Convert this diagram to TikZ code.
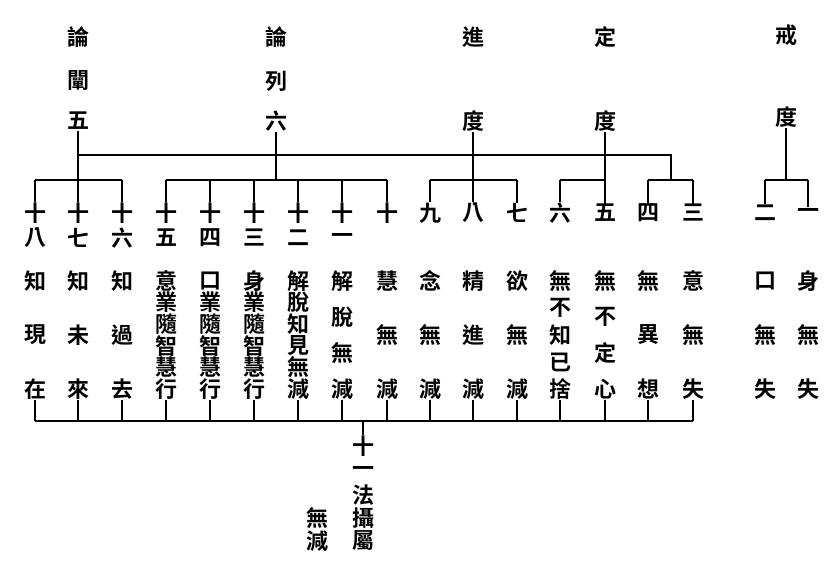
\documentclass[tikz,border=0pt]{standalone}
\usepackage{fontspec}
\newfontfamily\cjk{Noto Sans CJK TC Bold}

\begin{document}
\begin{tikzpicture}[x=1pt,y=-1pt,line width=1.4pt,
	zi/.style={font=\cjk\fontsize{22}{22}\selectfont,inner sep=0pt}]
	\useasboundingbox (0,0) rectangle (839,568);

	% headers
	\node[zi] (a1) at (78,37) {論};
	\node[zi] (a2) at (78,81) {闡};
	\node[zi] (hA) at (78,121) {五};
	\node[zi] (b1) at (276,37) {論};
	\node[zi] (b2) at (276,81) {列};
	\node[zi] (hB) at (276,121) {六};
	\node[zi] (c1) at (473,37) {進};
	\node[zi] (hC) at (473,121) {度};
	\node[zi] (d1) at (605,37) {定};
	\node[zi] (hD) at (605,121) {度};
	\node[zi] (e1) at (786,35) {戒};
	\node[zi] (hE) at (786,117) {度};

	% items
	\foreach \i/\x/\nr/\txt/\gap in {
		1/808/{一}/{身,無,失}/54,
		2/765/{二}/{口,無,失}/54,
		3/693/{三}/{意,無,失}/54,
		4/648/{四}/{無,異,想}/54,
		5/605/{五}/{無,不,定,心}/36,
		6/560/{六}/{無,不,知,已,捨}/27,
		7/517/{七}/{欲,無,減}/54,
		8/473/{八}/{精,進,減}/54,
		9/430/{九}/{念,無,減}/54,
		10/387/{十}/{慧,無,減}/54,
		11/342/{十,一}/{解,脫,無,減}/36,
		12/298/{十,二}/{解,脫,知,見,無,減}/21.6,
		13/254/{十,三}/{身,業,隨,智,慧,行}/21.6,
		14/210/{十,四}/{口,業,隨,智,慧,行}/21.6,
		15/166/{十,五}/{意,業,隨,智,慧,行}/21.6,
		16/122/{十,六}/{知,過,去}/54,
		17/78/{十,七}/{知,未,來}/54,
		18/35/{十,八}/{知,現,在}/54}{
		\coordinate (t\i) at (\x,180);
		\coordinate (u\i) at (\x,421);
		\foreach \c [count=\k] in \nr
			\node[zi] (n\i-\k) at (\x,{188+25*\k}) {\c};
		\foreach \c [count=\k] in \txt
			\node[zi] (w\i) at (\x,{281+\gap*(\k-1)}) {\c};
		\draw (t\i) -- (n\i-1);
		\ifnum\i>2 \draw (w\i) -- (u\i); \fi
	}

	% upper brackets
	\coordinate (r) at (671,155);
	\draw (r -| hA) -- (r) -- (r |- t3);
	\draw (hA) -- (t17);
	\draw (hB) -- (hB |- t15);
	\draw (hC) -- (t8);
	\draw (hD) -- (t5);
	\draw (hE) -- (hE |- t1);
	\draw (t18) -- (t16);
	\draw (t15) -- (t10);
	\draw (t9) -- (t7);
	\draw (t6) -- (t5);
	\draw (t4) -- (t3);
	\draw (t2) -- (t1);

	% lower bracket
	\draw (u18) -- (u3);
	\coordinate (s) at (363,421);
	\node[zi] (k1) at (363,446) {十};
	\node[zi] (k2) at (363,471) {一};
	\node[zi] (k3) at (363,495) {法};
	\node[zi] (k4) at (363,518) {攝};
	\node[zi] (k5) at (363,541) {屬};
	\node[zi] (m1) at (317,518) {無};
	\node[zi] (m2) at (317,541) {減};
	\draw (s) -- (k1);
\end{tikzpicture}
\end{document}
